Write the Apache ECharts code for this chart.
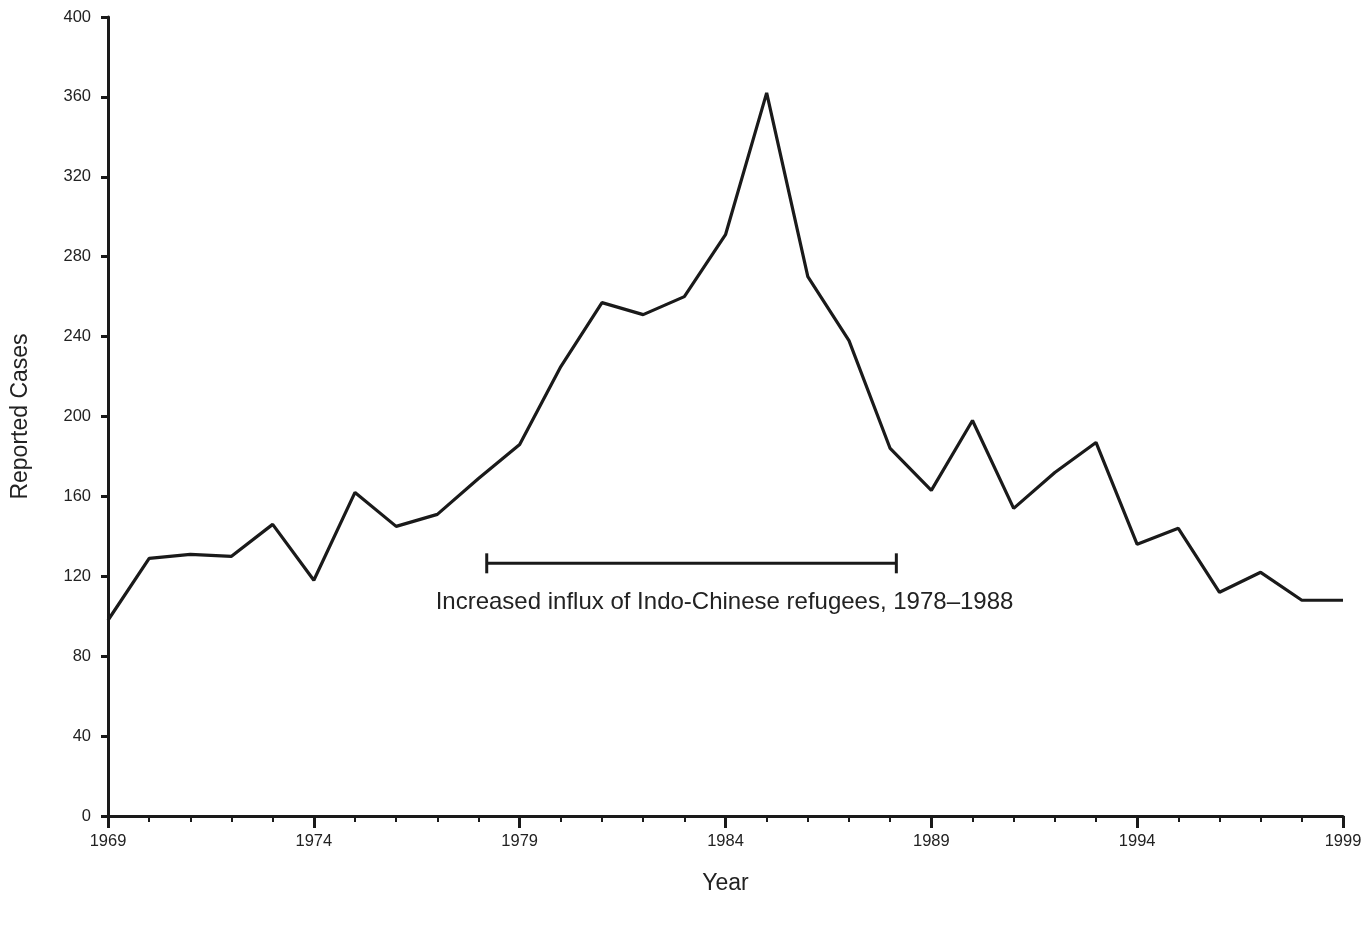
<!DOCTYPE html>
<html>
<head>
<meta charset="utf-8">
<script src="https://cdn.jsdelivr.net/npm/echarts@6/dist/echarts.min.js"></script>
<style>html,body{margin:0;padding:0;background:#fff}#chart{width:1365px;height:925px}</style>
</head>
<body>
<div id="chart"></div>
<script>
const years = [1969,1970,1971,1972,1973,1974,1975,1976,1977,1978,1979,1980,1981,1982,1983,1984,1985,1986,1987,1988,1989,1990,1991,1992,1993,1994,1995,1996,1997,1998,1999];
const cases = [98,129,131,130,146,118,162,145,151,169,186,225,257,251,260,291,362,270,238,184,163,198,154,172,187,136,144,112,122,108,108];
const yTicks = [0,40,80,120,160,200,240,280,320,360,400];
const xTickLabels = [1969,1974,1979,1984,1989,1994,1999];
const influxRange = [1978.2, 1988.15];
const influxLevel = 126.5;
const influxText = 'Increased influx of Indo-Chinese refugees, 1978\u20131988';

const ink = '#1a1a1a';
const font = 'Liberation Sans, Arial, sans-serif';
const chart = echarts.init(document.getElementById('chart'));
chart.setOption({
  animation: false,
  backgroundColor: '#fff',
  grid: {left: 108, right: 22, top: 17, bottom: 109, containLabel: false},
  xAxis: {
    type: 'value', min: years[0], max: years[years.length-1], interval: 5,
    name: 'Year', nameLocation: 'middle', nameGap: 56,
    nameTextStyle: {fontFamily: font, fontSize: 23, color: '#222'},
    axisLine: {show: true, onZero: false, lineStyle: {color: ink, width: 3}},
    axisTick: {show: true, length: 12, lineStyle: {color: ink, width: 3}},
    minorTick: {show: true, splitNumber: 5, length: 6, lineStyle: {color: ink, width: 2}},
    splitLine: {show: false},
    axisLabel: {margin: 17, fontFamily: font, fontSize: 16.5, color: '#222',
      formatter: v => xTickLabels.includes(v) ? String(v) : ''}
  },
  yAxis: {
    type: 'value', min: yTicks[0], max: yTicks[yTicks.length-1], interval: 40,
    name: 'Reported Cases', nameLocation: 'middle', nameGap: 76, nameRotate: 90,
    nameTextStyle: {fontFamily: font, fontSize: 23, color: '#222'},
    axisLine: {show: true, lineStyle: {color: ink, width: 3}},
    axisTick: {show: true, length: 7, lineStyle: {color: ink, width: 3}},
    splitLine: {show: false},
    axisLabel: {margin: 17, fontFamily: font, fontSize: 16.5, color: '#222'}
  },
  series: [
    {
      type: 'line', data: years.map((y,i)=>[y,cases[i]]),
      symbol: 'none', lineStyle: {color: ink, width: 3.2}, z: 3
    },
    {
      type: 'custom', z: 4,
      data: [[influxRange[0], influxRange[1], influxLevel]],
      renderItem: function(params, api) {
        const p0 = api.coord([api.value(0), api.value(2)]);
        const p1 = api.coord([api.value(1), api.value(2)]);
        const cap = 10;
        return {
          type: 'group',
          children: [
            {type: 'line', shape: {x1: p0[0], y1: p0[1], x2: p1[0], y2: p1[1]}, style: {stroke: ink, lineWidth: 3}},
            {type: 'line', shape: {x1: p0[0], y1: p0[1]-cap, x2: p0[0], y2: p0[1]+cap}, style: {stroke: ink, lineWidth: 3}},
            {type: 'line', shape: {x1: p1[0], y1: p1[1]-cap, x2: p1[0], y2: p1[1]+cap}, style: {stroke: ink, lineWidth: 3}},
            {type: 'text', style: {text: influxText, x: (p0[0]+p1[0])/2 + 33, y: p0[1] + 39,
              align: 'center', verticalAlign: 'middle', fontFamily: font, fontSize: 24, fill: '#222'}}
          ]
        };
      }
    }
  ]
});
</script>
</body>
</html>
